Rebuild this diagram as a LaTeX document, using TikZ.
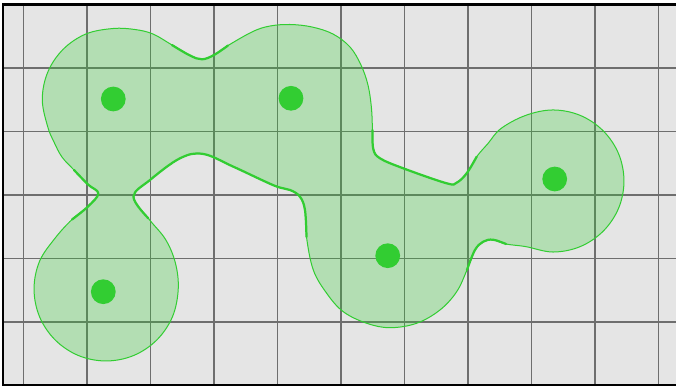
\documentclass[tikz,border=0pt]{standalone}
\usepackage{xcolor}
\usepackage{tikz}
\definecolor{seedgreen}{HTML}{32CD32}
\definecolor{panelgray}{HTML}{E5E5E5}
\definecolor{gridgray}{HTML}{6E6E6E}

\begin{document}
\begin{tikzpicture}[
  seed/.style={circle,fill=seedgreen,inner sep=0pt,minimum size=3.9mm},
  hull/.style={draw=seedgreen,line width=0.45pt,fill=seedgreen,fill opacity=0.28},
  crease/.style={draw=seedgreen,line width=1pt,line cap=round}
]
\useasboundingbox (-0.367,-0.024) rectangle (10.279,6.071);
\fill[panelgray] (-0.32,0) rectangle (10.279,6);
\draw[gridgray,line width=0.65pt] (-0.32,0) grid (10.279,6);
\draw[line width=0.9pt] (10.279,6) -- (-0.32,6) -- (-0.32,0) -- (10.279,0);
% smooth hull round the five seeds
\draw[hull] plot[smooth cycle,tension=0.6] coordinates {
  (0.299,4.504) (0.384,4.932) (0.627,5.294) (0.989,5.537) (1.417,5.622)
  (1.759,5.606) (2.043,5.535) (2.342,5.362) (2.625,5.197) (2.814,5.137)
  (3.003,5.205) (3.224,5.354) (3.617,5.575) (3.885,5.661) (4.200,5.685)
  (4.546,5.646) (4.877,5.535) (5.145,5.331) (5.318,5.047) (5.428,4.732)
  (5.483,4.370) (5.499,4.024) (5.512,3.724) (5.617,3.578) (5.984,3.420)
  (6.668,3.184) (6.825,3.194) (6.983,3.342) (7.140,3.603) (7.318,3.811)
  (7.523,4.047) (7.913,4.254) (8.342,4.339) (8.770,4.254) (9.132,4.011)
  (9.375,3.649) (9.460,3.220) (9.375,2.792) (9.132,2.430) (8.770,2.187)
  (8.342,2.102) (7.913,2.187) (7.602,2.228) (7.397,2.296) (7.244,2.265)
  (7.113,2.134) (6.987,1.819) (6.825,1.477) (6.562,1.189) (6.195,0.980)
  (5.775,0.910) (5.408,0.980) (5.039,1.162) (4.778,1.452) (4.567,1.819)
  (4.460,2.339) (4.436,2.764) (4.357,2.973) (4.200,3.079) (3.948,3.150)
  (3.307,3.446) (2.835,3.646) (2.468,3.578) (1.995,3.236) (1.735,2.973)
  (1.969,2.633) (2.240,2.300) (2.395,1.930) (2.440,1.520) (2.350,1.085)
  (2.104,0.718) (1.737,0.472) (1.302,0.386) (0.868,0.472) (0.501,0.718)
  (0.255,1.085) (0.169,1.520) (0.255,1.954) (0.501,2.321) (0.767,2.614)
  (1.019,2.819) (1.181,3.024) (1.019,3.165) (0.798,3.394) (0.609,3.598)
  (0.483,3.835) (0.384,4.076)};
% heavier strokes in the hollows
\draw[crease] plot[smooth,tension=0.6] coordinates {
  (2.342,5.362) (2.625,5.197) (2.814,5.137) (3.003,5.205) (3.224,5.354)};
\draw[crease] plot[smooth,tension=0.6] coordinates {
  (5.499,4.024) (5.512,3.724) (5.617,3.578) (5.984,3.420) (6.668,3.184)
  (6.825,3.194) (6.983,3.342) (7.140,3.603)};
\draw[crease] plot[smooth,tension=0.6] coordinates {
  (6.987,1.819) (7.113,2.134) (7.244,2.265) (7.397,2.296) (7.602,2.228)};
\draw[crease] plot[smooth,tension=0.6] coordinates {
  (4.460,2.339) (4.436,2.764) (4.357,2.973) (4.200,3.079) (3.948,3.150)
  (3.307,3.446) (2.835,3.646) (2.468,3.578) (1.995,3.236) (1.735,2.973)
  (1.969,2.633)};
\draw[crease] plot[smooth,tension=0.6] coordinates {
  (0.767,2.614) (1.019,2.819) (1.181,3.024) (1.019,3.165) (0.798,3.394)};
% seeds
\node[seed] (s1) at (1.417,4.512) {};
\node[seed] (s2) at (4.216,4.523) {};
\node[seed] (s3) at (8.369,3.252) {};
\node[seed] (s4) at (1.260,1.477) {};
\node[seed] (s5) at (5.739,2.044) {};
\end{tikzpicture}
\end{document}
